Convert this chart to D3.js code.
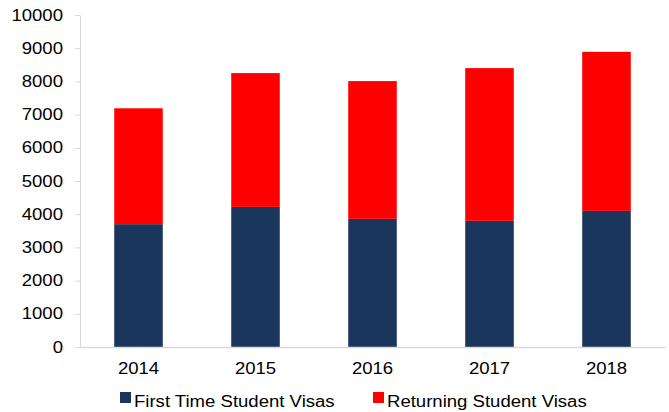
<!DOCTYPE html>
<html>
<head>
<meta charset="utf-8">
<script src="https://cdn.jsdelivr.net/npm/d3@7"></script>
<style>
  html, body { margin: 0; padding: 0; background: #fff; }
  svg { display: block; }
  text { font-family: "Liberation Sans", Arial, sans-serif; fill: #000; }
</style>
</head>
<body>
<svg id="chart" width="669" height="412"></svg>
<script>
const years = ["2014", "2015", "2016", "2017", "2018"];
const firstTime = [3700, 4220, 3860, 3800, 4100];
const returning = [3490, 4030, 4150, 4600, 4790];
const seriesNames = ["First Time Student Visas", "Returning Student Visas"];
const seriesColors = ["#1a365d", "#ff0000"];
const yTicks = [0, 1000, 2000, 3000, 4000, 5000, 6000, 7000, 8000, 9000, 10000];

const SX = 1.16; // horizontal stretch of text in reference
const FS = 16;
const svg = d3.select("#chart");
const mLeft = 80, mRight = 665, mTop = 15, mBottom = 347;

const x = d3.scaleBand().domain(years).range([mLeft, mRight]).paddingInner(0.585).paddingOuter(0.2925);
const y = d3.scaleLinear().domain([0, 10000]).range([mBottom, mTop]);

const table = years.map((yr, i) => ({year: yr, first: firstTime[i], returning: returning[i]}));
const stack = d3.stack().keys(["first", "returning"])(table);

svg.append("g").selectAll("g").data(stack).join("g")
  .attr("fill", (d, i) => seriesColors[i])
  .selectAll("rect").data(d => d).join("rect")
  .attr("x", d => x(d.data.year))
  .attr("width", x.bandwidth())
  .attr("y", d => y(d[1]))
  .attr("height", d => y(d[0]) - y(d[1]));

function stretch(sel) {
  sel.each(function() {
    const t = d3.select(this);
    const tx = +t.attr("x") || 0;
    const ty = +t.attr("y") || 0;
    t.attr("x", 0).attr("y", 0).attr("transform", `translate(${tx},${ty}) scale(${SX},1)`);
  });
}

// Y axis
const gy = svg.append("g").attr("transform", `translate(${mLeft},0)`)
  .call(d3.axisLeft(y).tickValues(yTicks).tickFormat(d3.format("d")).tickSize(5).tickSizeOuter(0).tickPadding(12));
gy.select(".domain").attr("stroke", "#d9d9d9");
gy.selectAll(".tick line").attr("stroke", "#d9d9d9");
gy.selectAll("text").attr("font-size", FS).attr("font-family", "Liberation Sans, Arial, sans-serif").attr("fill", "#000");
stretch(gy.selectAll("text"));

// X axis
const gx = svg.append("g").attr("transform", `translate(0,${mBottom})`)
  .call(d3.axisBottom(x).tickSize(0).tickPadding(16));
gx.select(".domain").attr("stroke", "#d9d9d9").attr("stroke-width", 1.5);
gx.selectAll("text").attr("font-size", FS).attr("font-family", "Liberation Sans, Arial, sans-serif").attr("fill", "#000");
stretch(gx.selectAll("text"));

// Legend
const legendX = [120, 373];
const lg = svg.append("g").selectAll("g").data(seriesNames).join("g")
  .attr("transform", (d, i) => `translate(${legendX[i]},392)`);
lg.append("rect").attr("width", 11).attr("height", 11).attr("fill", (d, i) => seriesColors[i]);
lg.append("text").attr("x", 14).attr("y", 15).attr("font-size", FS).text(d => d)
  .call(stretch);
</script>
</body>
</html>
